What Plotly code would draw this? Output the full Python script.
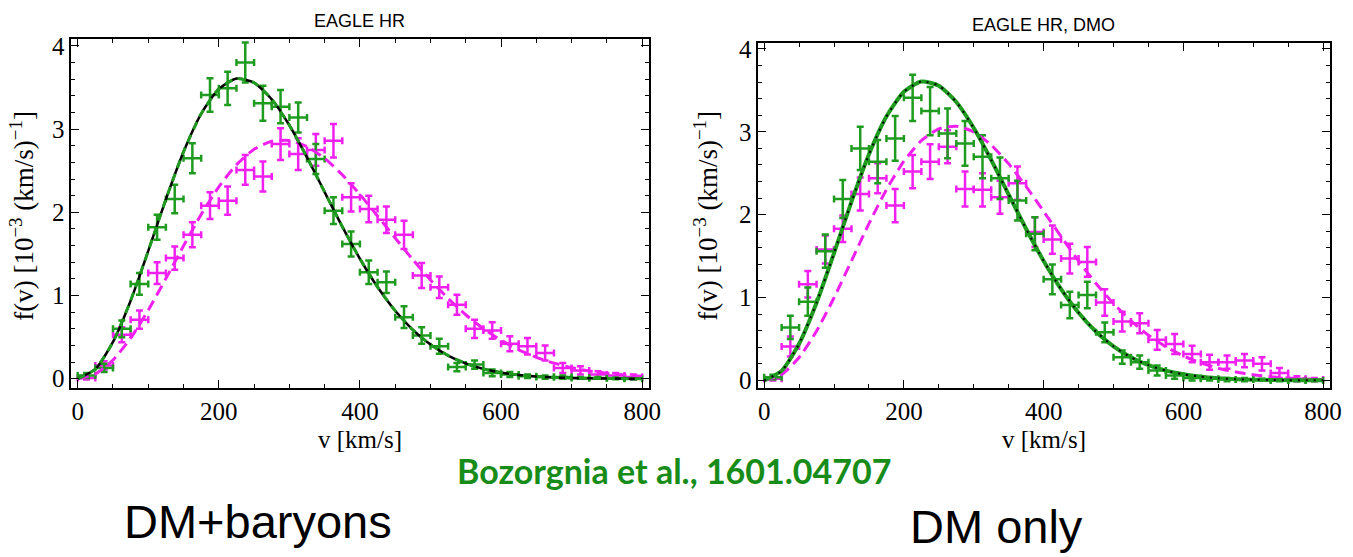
import plotly.graph_objects as go

W, H = 1353, 557

# Speed bins (km/s): bin centres, half bin width
v_bins = [12.5, 37.5, 62.5, 87.5, 112.5, 137.5, 162.5, 187.5, 212.5, 237.5,
          262.5, 287.5, 312.5, 337.5, 362.5, 387.5, 412.5, 437.5, 462.5, 487.5,
          512.5, 537.5, 562.5, 587.5, 612.5, 637.5, 662.5, 687.5, 712.5, 737.5,
          762.5, 787.5]
bin_half = 12.5

# EAGLE HR (DM+baryons): halo-integrated f(v) in 1e-3 (km/s)^-1
hr_green = [0.04, 0.13, 0.60, 1.14, 1.82, 2.16, 2.65, 3.41, 3.49, 3.80,
            3.31, 3.27, 3.14, 2.64, 2.02, 1.62, 1.28, 1.16, 0.74, 0.52,
            0.39, 0.14, 0.17, 0.07, 0.05, 0.03, 0.02, 0.02, 0.01, 0.01,
            0.005, 0.0]
hr_green_err = [0.03, 0.05, 0.10, 0.13, 0.15, 0.17, 0.18, 0.20, 0.20, 0.24,
                0.21, 0.20, 0.18, 0.18, 0.16, 0.15, 0.14, 0.13, 0.13, 0.10,
                0.09, 0.05, 0.05, 0.04, 0.03, 0.02, 0.02, 0.02, 0.01, 0.01,
                0.01, 0.01]
hr_magenta = [0.01, 0.16, 0.53, 0.71, 1.27, 1.45, 1.73, 2.08, 2.14, 2.51,
              2.43, 2.82, 2.70, 2.75, 2.86, 2.18, 2.04, 1.91, 1.73, 1.24,
              1.10, 0.89, 0.60, 0.58, 0.42, 0.39, 0.31, 0.13, 0.10, 0.05,
              0.04, 0.02]
hr_magenta_err = [0.02, 0.05, 0.09, 0.11, 0.13, 0.14, 0.15, 0.16, 0.17, 0.18,
                  0.18, 0.19, 0.19, 0.19, 0.20, 0.17, 0.16, 0.16, 0.17, 0.15,
                  0.13, 0.12, 0.11, 0.10, 0.09, 0.10, 0.09, 0.06, 0.05, 0.04,
                  0.03, 0.03]

# EAGLE HR, DMO (DM only)
dmo_green = [0.04, 0.64, 0.95, 1.56, 2.19, 2.80, 2.64, 2.92, 3.41, 3.25,
             2.98, 2.86, 2.70, 2.44, 2.17, 1.77, 1.22, 0.91, 1.03, 0.58,
             0.28, 0.22, 0.12, 0.06, 0.03, 0.02, 0.01, 0.01, 0.01, 0.0,
             0.0, 0.0]
dmo_green_err = [0.03, 0.14, 0.17, 0.20, 0.23, 0.26, 0.26, 0.27, 0.28, 0.29,
                 0.30, 0.27, 0.26, 0.25, 0.24, 0.20, 0.18, 0.16, 0.16, 0.12,
                 0.08, 0.08, 0.06, 0.04, 0.03, 0.02, 0.02, 0.02, 0.01, 0.01,
                 0.01, 0.01]
dmo_magenta = [0.02, 0.41, 1.16, 1.58, 1.83, 2.25, 2.44, 2.11, 2.52, 2.64,
               2.82, 2.31, 2.30, 2.21, 2.38, 1.79, 1.70, 1.47, 1.43, 0.94,
               0.71, 0.69, 0.49, 0.44, 0.32, 0.22, 0.22, 0.24, 0.20, 0.09,
               0.02, 0.01]
dmo_magenta_err = [0.02, 0.12, 0.16, 0.17, 0.16, 0.20, 0.18, 0.20, 0.20, 0.21,
                   0.20, 0.21, 0.20, 0.20, 0.20, 0.18, 0.17, 0.18, 0.18, 0.16,
                   0.12, 0.12, 0.12, 0.12, 0.10, 0.09, 0.08, 0.08, 0.08, 0.06,
                   0.03, 0.02]

# Best-fit curves sampled every 25 km/s
v_fit = [0, 25, 50, 75, 100, 125, 150, 175, 200, 225, 250, 275, 300, 325, 350,
         375, 400, 425, 450, 475, 500, 525, 550, 575, 600, 625, 650, 675, 700,
         725, 750, 775, 800]
hr_green_fit = [0.0, 0.115, 0.442, 0.938, 1.536, 2.157, 2.728, 3.184, 3.483,
                3.607, 3.557, 3.359, 3.046, 2.660, 2.243, 1.828, 1.442, 1.102,
                0.817, 0.588, 0.411, 0.279, 0.184, 0.118, 0.074, 0.045, 0.027,
                0.015, 0.009, 0.005, 0.003, 0.001, 0.001]
hr_magenta_fit = [0.0, 0.058, 0.225, 0.488, 0.824, 1.204, 1.597, 1.974, 2.306,
                  2.572, 2.757, 2.854, 2.863, 2.791, 2.648, 2.451, 2.214, 1.956,
                  1.691, 1.431, 1.187, 0.965, 0.769, 0.602, 0.462, 0.348, 0.258,
                  0.188, 0.134, 0.094, 0.065, 0.044, 0.029]
dmo_green_fit = [0.0, 0.115, 0.442, 0.938, 1.536, 2.157, 2.728, 3.184, 3.483,
                 3.607, 3.557, 3.359, 3.046, 2.660, 2.243, 1.828, 1.442, 1.102,
                 0.817, 0.588, 0.411, 0.279, 0.184, 0.118, 0.074, 0.045, 0.027,
                 0.015, 0.009, 0.005, 0.003, 0.001, 0.001]
dmo_magenta_fit = [0.0, 0.071, 0.277, 0.596, 0.998, 1.444, 1.892, 2.303, 2.645,
                   2.894, 3.036, 3.068, 2.998, 2.840, 2.613, 2.339, 2.040, 1.736,
                   1.441, 1.169, 0.928, 0.720, 0.546, 0.406, 0.295, 0.211, 0.147,
                   0.101, 0.068, 0.045, 0.029, 0.018, 0.011]

x_ticks = [0, 200, 400, 600, 800]
y_ticks = [0, 1, 2, 3, 4]

GREEN = "#1f9b1f"
MAGENTA = "#f020f0"
SERIF = "Liberation Serif"
SANS = "Liberation Sans"


def px(x):
    return x / W


def py(y):
    return 1 - y / H


def points(x, y, err, color, xa, ya):
    return go.Scatter(
        x=x, y=y, mode="markers", xaxis=xa, yaxis=ya,
        marker=dict(size=2, color=color),
        error_x=dict(type="constant", value=bin_half, width=3.5,
                     thickness=2.5, color=color),
        error_y=dict(type="data", array=err, width=3.5,
                     thickness=2.5, color=color),
        showlegend=False, hoverinfo="x+y",
    )


def curve(y, color, width, dash, xa, ya):
    return go.Scatter(
        x=v_fit, y=y, mode="lines", xaxis=xa, yaxis=ya,
        line=dict(color=color, width=width, dash=dash, shape="spline",
                  smoothing=0.6),
        showlegend=False, hoverinfo="skip",
    )


fig = go.Figure()

# DM+baryons panel
fig.add_trace(points(v_bins, hr_magenta, hr_magenta_err, MAGENTA, "x", "y"))
fig.add_trace(points(v_bins, hr_green, hr_green_err, GREEN, "x", "y"))
fig.add_trace(curve(hr_magenta_fit, MAGENTA, 3, "11px,6px", "x", "y"))
fig.add_trace(curve(hr_green_fit, "black", 2.5, "solid", "x", "y"))
fig.add_trace(curve(hr_green_fit, GREEN, 3, "8px,6px", "x", "y"))

# DM only panel
fig.add_trace(points(v_bins, dmo_magenta, dmo_magenta_err, MAGENTA, "x2", "y2"))
fig.add_trace(points(v_bins, dmo_green, dmo_green_err, GREEN, "x2", "y2"))
fig.add_trace(curve(dmo_magenta_fit, MAGENTA, 3, "11px,6px", "x2", "y2"))
fig.add_trace(curve(dmo_green_fit, GREEN, 4, "solid", "x2", "y2"))
fig.add_trace(curve(dmo_green_fit, "black", 2, "2px,6px", "x2", "y2"))

axis_common = dict(
    showgrid=False, zeroline=False, showline=True, linecolor="black",
    linewidth=1.5, mirror="allticks", ticks="inside", ticklen=8,
    tickwidth=1.2, tickcolor="black",
    tickfont=dict(family=SERIF, size=25, color="black"),
)

fig.update_layout(
    width=W, height=H,
    margin=dict(l=0, r=0, t=0, b=0),
    paper_bgcolor="white", plot_bgcolor="white",
    xaxis=dict(domain=[px(72), px(655)], range=[-9, 810],
               tickvals=x_ticks, anchor="y",
               minor=dict(dtick=50, tick0=0, ticks="inside", ticklen=4,
                          tickcolor="black", tickwidth=1), **axis_common),
    yaxis=dict(domain=[py(390), py(33)], range=[-0.11, 4.08],
               tickvals=y_ticks, anchor="x",
               minor=dict(dtick=0.2, tick0=0, ticks="inside", ticklen=4,
                          tickcolor="black", tickwidth=1), **axis_common),
    xaxis2=dict(domain=[px(765), px(1342)], range=[-8.5, 810],
                tickvals=x_ticks, anchor="y2",
                minor=dict(dtick=50, tick0=0, ticks="inside", ticklen=4,
                           tickcolor="black", tickwidth=1), **axis_common),
    yaxis2=dict(domain=[py(390), py(37)], range=[-0.09, 4.07],
                tickvals=y_ticks, anchor="x2",
                minor=dict(dtick=0.2, tick0=0, ticks="inside", ticklen=4,
                           tickcolor="black", tickwidth=1), **axis_common),
)

ylabel = "f(v) [10<sup>−3</sup> (km/s)<sup>−1</sup>]"
notes = [
    ("EAGLE HR", 363, 14, dict(family=SANS, size=18), 0),
    ("EAGLE HR, DMO", 1053, 18, dict(family=SANS, size=18), 0),
    ("v [km/s]", 363, 443, dict(family=SERIF, size=25), 0),
    ("v [km/s]", 1053, 443, dict(family=SERIF, size=25), 0),
    (ylabel, 22, 214, dict(family=SERIF, size=27), -90),
    (ylabel, 712, 214, dict(family=SERIF, size=27), -90),
    ("<b>Bozorgnia et al., 1601.04707</b>", 680, 475,
     dict(family="Lato", size=34, color="#188c18"), 0),
    ("DM+baryons", 260, 527, dict(family=SANS, size=47), 0),
    ("DM only", 1005, 532, dict(family=SANS, size=47), 0),
]
for text, x, y, font, angle in notes:
    font = dict(font)
    font.setdefault("color", "black")
    fig.add_annotation(text=text, x=px(x), y=py(y), xref="paper", yref="paper",
                       xanchor="center", yanchor="middle", showarrow=False,
                       textangle=angle, font=font)

fig.write_html("out.html")
